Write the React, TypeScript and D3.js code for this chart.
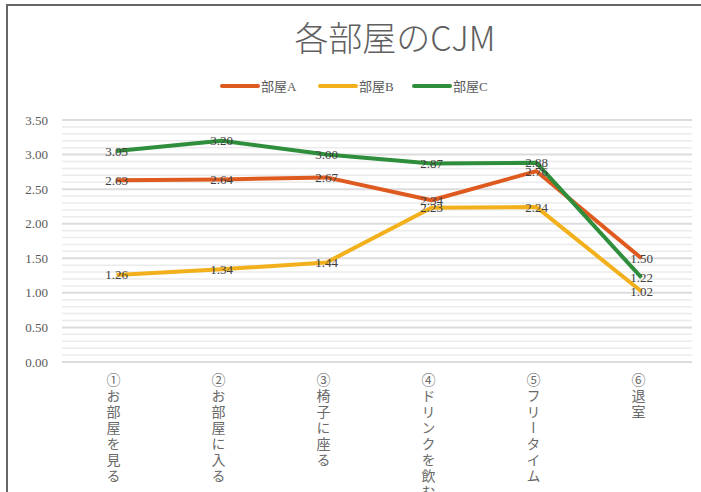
import { useEffect, useRef } from "react";
import * as d3 from "d3";

const categories = [
  "①お部屋を見る",
  "②お部屋に入る",
  "③椅子に座る",
  "④ドリンクを飲む",
  "⑤フリータイム",
  "⑥退室",
];
const seriesNames = ["部屋A", "部屋B", "部屋C"];
const roomA = [2.63, 2.64, 2.67, 2.34, 2.76, 1.5];
const roomB = [1.26, 1.34, 1.44, 2.23, 2.24, 1.02];
const roomC = [3.05, 3.2, 3.0, 2.87, 2.88, 1.22];
const yTicks = [0, 0.5, 1, 1.5, 2, 2.5, 3, 3.5];
const colors = ["#DE5A1F", "#F2B11C", "#2E8E3B"];

const width = 701;
const height = 492;
const serif = "'Liberation Serif', 'DejaVu Serif', serif";
const cjk = "'Noto Sans CJK JP', sans-serif";

export default function App() {
  const svgRef = useRef<SVGSVGElement>(null);

  useEffect(() => {
    const svg = d3.select(svgRef.current);
    svg.selectAll("*").remove();

    const x = d3.scalePoint<string>().domain(categories).range([64, 694]).padding(0.5);
    const y = d3.scaleLinear().domain([0, 3.5]).range([362, 120]);

    // frame
    svg.append("rect").attr("width", width).attr("height", height).attr("fill", "#fff");
    svg
      .append("path")
      .attr("d", `M7,${height} L7,5 L${width},5`)
      .attr("fill", "none")
      .attr("stroke", "#666")
      .attr("stroke-width", 2);

    // minor grid (0.1 steps)
    const minor = d3.range(0, 35).map((d) => d / 10).filter((d) => Math.round(d * 10) % 5 !== 0);
    svg
      .append("g")
      .selectAll("line")
      .data(minor)
      .join("line")
      .attr("x1", 62)
      .attr("x2", 692)
      .attr("y1", (d) => y(d))
      .attr("y2", (d) => y(d))
      .attr("stroke", "#ebebeb")
      .attr("stroke-width", 1.5);

    // major grid
    svg
      .append("g")
      .selectAll("line")
      .data(yTicks)
      .join("line")
      .attr("x1", 62)
      .attr("x2", 692)
      .attr("y1", (d) => y(d))
      .attr("y2", (d) => y(d))
      .attr("stroke", "#dcdcdc")
      .attr("stroke-width", 2);

    // y labels
    svg
      .append("g")
      .selectAll("text")
      .data(yTicks)
      .join("text")
      .attr("x", 48)
      .attr("y", (d) => y(d))
      .attr("dy", "0.35em")
      .attr("text-anchor", "end")
      .attr("font-family", serif)
      .attr("font-size", 13)
      .attr("fill", "#595959")
      .text((d) => d.toFixed(2));

    // x labels (vertical)
    svg
      .append("g")
      .selectAll("text")
      .data(categories)
      .join("text")
      .attr("x", (d) => x(d)! - 3)
      .attr("y", 373)
      .attr("font-family", cjk)
      .attr("font-size", 14)
      .attr("letter-spacing", 2)
      .attr("fill", "#6a6a6a")
      .style("writing-mode", "vertical-rl")
      .text((d) => d);

    // title
    svg
      .append("text")
      .attr("x", 395)
      .attr("y", 51)
      .attr("text-anchor", "middle")
      .attr("font-family", cjk)
      .attr("font-size", 34)
      .attr("font-weight", 300)
      .attr("fill", "#5f5f5f")
      .text("各部屋のCJM");

    // legend
    const legendX = [222, 320, 414];
    seriesNames.forEach((name, i) => {
      const g = svg.append("g").attr("transform", `translate(${legendX[i]},86)`);
      g.append("line")
        .attr("x1", 0)
        .attr("x2", 36)
        .attr("stroke", colors[i])
        .attr("stroke-width", 4)
        .attr("stroke-linecap", "round");
      g.append("text")
        .attr("x", 39)
        .attr("dy", "0.35em")
        .attr("font-family", `${serif}, ${cjk}`)
        .attr("font-size", 13)
        .attr("fill", "#595959")
        .text(name);
    });

    const series = [roomA, roomB, roomC];
    const line = d3
      .line<number>()
      .x((_, i) => x(categories[i])!)
      .y((d) => y(d));

    series.forEach((vals, i) => {
      svg
        .append("path")
        .datum(vals)
        .attr("fill", "none")
        .attr("stroke", colors[i])
        .attr("stroke-width", 4)
        .attr("stroke-linejoin", "round")
        .attr("d", line);
    });

    // data labels centred on points
    series.forEach((vals) => {
      svg
        .append("g")
        .selectAll("text")
        .data(vals)
        .join("text")
        .attr("x", (_, j) => x(categories[j])!)
        .attr("y", (d) => y(d))
        .attr("dy", "0.35em")
        .attr("text-anchor", "middle")
        .attr("font-family", serif)
        .attr("font-size", 13)
        .attr("fill", "#404040")
        .text((d) => d.toFixed(2));
    });
  }, []);

  return (
    <svg
      ref={svgRef}
      width={width}
      height={height}
      style={{ position: "absolute", left: 0, top: 0 }}
    />
  );
}
